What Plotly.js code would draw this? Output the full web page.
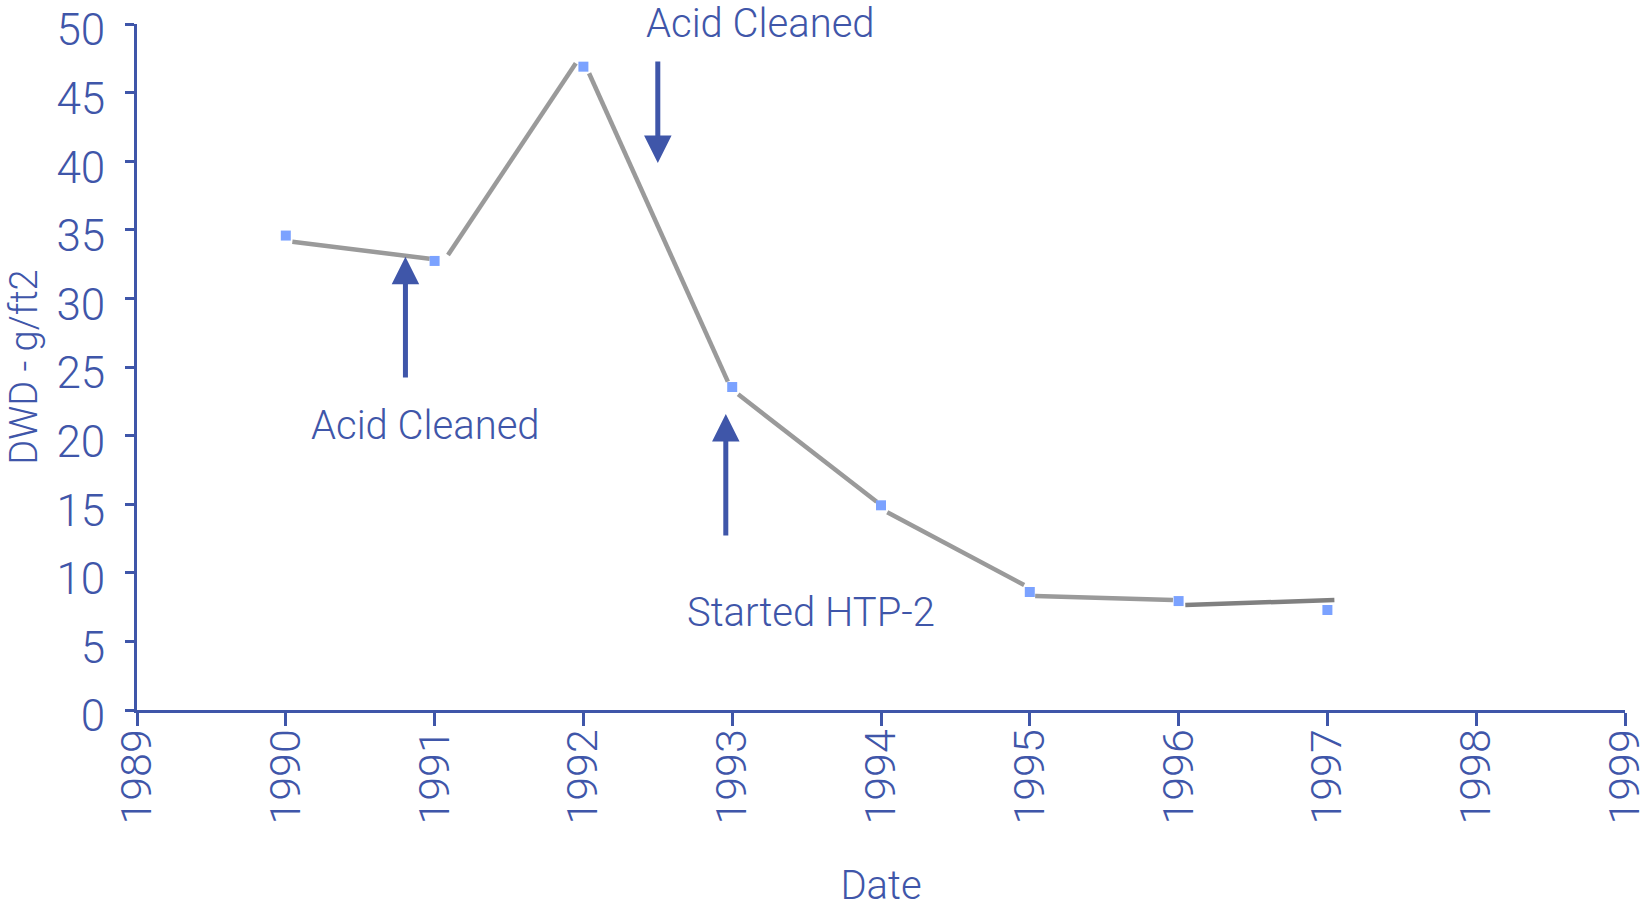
<!DOCTYPE html>
<html>
<head>
<meta charset="utf-8">
<script src="https://cdn.plot.ly/plotly-3.0.1.min.js"></script>
<style>html,body{margin:0;padding:0;background:#fff;}#chart{width:1641px;height:909px;}</style>
</head>
<body>
<div id="chart"></div>
<script>
// Measured points (markers)
const years = [1990, 1991, 1992, 1993, 1994, 1995, 1996, 1997];
const dwd = [34.58, 32.73, 46.89, 23.54, 14.92, 8.60, 7.94, 7.29];

// Connecting line, drawn as separate segments (null = gap)
const lineX = [1990.044, 1990.967, null, 1991.09, 1991.949, null, 1992.038, 1992.971, null,
               1993.040, 1993.971, null, 1994.042, 1994.962, null, 1995.036, 1995.962];
const lineY = [34.13, 32.89, null, 33.16, 47.14, null, 46.41, 23.93, null,
               23.01, 15.18, null, 14.41, 9.11, null, 8.31, 8.02];
const lastLineX = [1996.045, 1997.047];
const lastLineY = [7.65, 8.02];

const tickVals = [1989, 1990, 1991, 1992, 1993, 1994, 1995, 1996, 1997, 1998, 1999];
const tickText = ["1989", "1990", "1991", "1992", "1993", "1994", "1995", "1996", "1997", "1998", "1999"];
const yTicks = [0, 5, 10, 15, 20, 25, 30, 35, 40, 45, 50];

const labelTexts = ["Acid Cleaned", "Acid Cleaned", "Started HTP-2"];

const BLUE = '#3F56A9';
const FONT = 'Roboto, "Open Sans", sans-serif';

const traces = [
  {x: lineX, y: lineY, mode: 'lines', line: {color: '#9A9A9A', width: 4.5}, connectgaps: false, hoverinfo: 'skip', showlegend: false},
  {x: lastLineX, y: lastLineY, mode: 'lines', line: {color: '#808080', width: 4.5}, hoverinfo: 'skip', showlegend: false},
  {x: years, y: dwd, mode: 'markers', marker: {symbol: 'square', size: 10, color: '#7BA2FF'}, showlegend: false}
];

function arrow(x, y, ax, ay) {
  return {x: x, y: y, xref: 'x', yref: 'y', ax: ax, ay: ay, axref: 'x', ayref: 'y',
    text: '', showarrow: true, arrowhead: 2, arrowsize: 1.1, arrowwidth: 5, arrowcolor: BLUE,
    standoff: 0, startstandoff: 0};
}
function label(t, x, y, yref) {
  return {x: x, y: y, xref: 'x', yref: yref || 'y', text: t, showarrow: false,
    xanchor: 'center', yanchor: 'middle', font: {family: FONT, size: 40, color: BLUE, weight: 300}};
}

const layout = {
  width: 1641, height: 909,
  paper_bgcolor: '#ffffff', plot_bgcolor: '#ffffff',
  margin: {l: 137, r: 16, t: 24, b: 199},
  showlegend: false,
  font: {family: FONT, color: BLUE},
  xaxis: {
    range: [1989, 1999], tickmode: 'array', tickvals: tickVals, ticktext: tickText,
    tickangle: -90, ticks: 'outside', ticklen: 13, tickwidth: 3, tickcolor: BLUE,
    showline: true, linecolor: BLUE, linewidth: 3, showgrid: false, zeroline: false,
    ticklabeloverflow: 'allow', ticklabelstandoff: -14,
    tickfont: {family: FONT, size: 43, color: BLUE, weight: 300},
    title: {text: 'Date', font: {family: FONT, size: 40, color: BLUE, weight: 300}, standoff: 62}
  },
  yaxis: {
    range: [0, 50], tickmode: 'array', tickvals: yTicks,
    ticks: 'outside', ticklen: 9, tickwidth: 3, tickcolor: BLUE,
    showline: true, linecolor: BLUE, linewidth: 3, showgrid: false, zeroline: false,
    ticklabeloverflow: 'allow', ticklabelstandoff: 11, ticklabelshift: 6,
    tickfont: {family: FONT, size: 44, color: BLUE, weight: 300},
    title: {text: 'DWD - g/ft2', font: {family: FONT, size: 38, color: BLUE, weight: 300}, standoff: 8}
  },
  annotations: [
    arrow(1990.804, 33.04, 1990.804, 24.13),
    arrow(1992.50, 39.87, 1992.50, 47.38),
    arrow(1992.957, 21.57, 1992.957, 12.61),
    label(labelTexts[0], 1990.94, 20.77),
    label(labelTexts[1], 1993.193, 50.07 / 50, 'paper'),
    label(labelTexts[2], 1993.53, 7.14)
  ]
};

Plotly.newPlot('chart', traces, layout, {displayModeBar: false, staticPlot: true});
</script>
</body>
</html>
